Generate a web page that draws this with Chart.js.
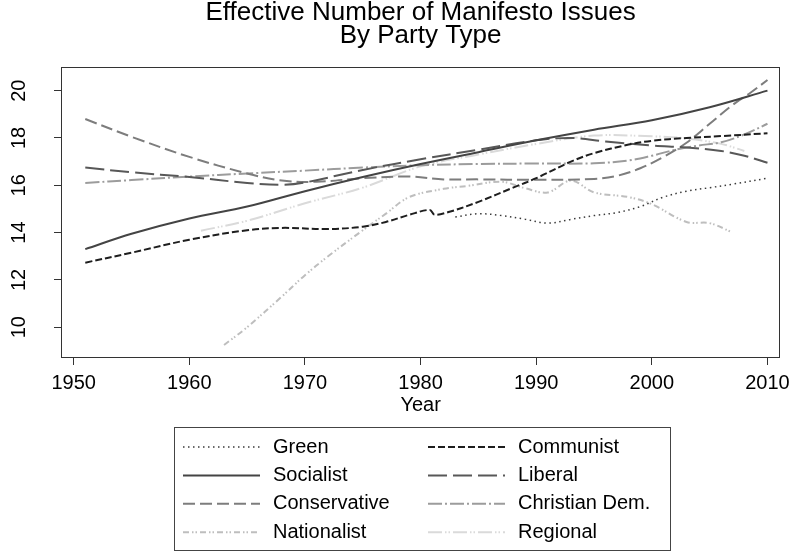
<!DOCTYPE html>
<html>
<head>
<meta charset="utf-8">
<title>Effective Number of Manifesto Issues</title>
<script src="https://cdn.jsdelivr.net/npm/chart.js@4.4.1/dist/chart.umd.min.js"></script>
<style>
  html, body { margin: 0; padding: 0; background: #fff; }
  #wrap { width: 796px; height: 552px; }
</style>
</head>
<body>
<div id="wrap"><canvas id="issuesChart" width="796" height="552"></canvas></div>
<script>
// smoothed effective number of issues, by party family
const greenYears = [1983, 1985, 1987, 1989, 1991, 1993, 1995, 1997, 1999, 2001, 2003, 2005, 2007, 2010];
const greenValues = [14.66, 14.8, 14.72, 14.57, 14.4, 14.56, 14.72, 14.85, 15.1, 15.5, 15.75, 15.9, 16.05, 16.3];

const communistYears = [1951, 1955, 1960, 1965, 1968, 1972, 1975, 1977, 1979, 1980.8, 1981.2, 1982.5, 1985, 1988, 1990, 1993, 1995, 1998, 2000, 2003, 2006, 2010];
const communistValues = [12.73, 13.15, 13.7, 14.1, 14.2, 14.15, 14.25, 14.45, 14.75, 14.96, 14.76, 14.88, 15.3, 15.9, 16.3, 17.0, 17.36, 17.72, 17.88, 18.0, 18.08, 18.2];

const socialistYears = [1951, 1955, 1960, 1965, 1970, 1975, 1980, 1985, 1990, 1995, 2000, 2005, 2010];
const socialistValues = [13.3, 13.95, 14.6, 15.1, 15.75, 16.35, 16.9, 17.4, 17.9, 18.35, 18.75, 19.3, 20.0];

const liberalYears = [1951, 1955, 1960, 1965, 1968, 1970, 1975, 1980, 1985, 1990, 1993, 1996, 2000, 2003, 2006, 2008, 2010];
const liberalValues = [16.75, 16.55, 16.35, 16.1, 16.02, 16.12, 16.65, 17.1, 17.5, 17.9, 18.0, 17.85, 17.68, 17.6, 17.45, 17.25, 16.95];

const conservativeYears = [1951, 1955, 1960, 1965, 1968, 1971, 1975, 1979, 1982, 1985, 1990, 1995, 1997, 1999, 2001, 2003, 2005, 2007, 2008.5, 2010];
const conservativeValues = [18.8, 18.05, 17.2, 16.5, 16.2, 16.15, 16.3, 16.37, 16.25, 16.25, 16.23, 16.27, 16.4, 16.72, 17.2, 17.8, 18.6, 19.4, 19.9, 20.45];

const christianYears = [1951, 1955, 1960, 1965, 1970, 1975, 1980, 1985, 1990, 1995, 1998, 2000, 2002, 2004, 2006, 2008, 2010];
const christianValues = [16.1, 16.22, 16.37, 16.5, 16.62, 16.75, 16.85, 16.9, 16.92, 16.93, 17.05, 17.25, 17.5, 17.68, 17.82, 18.15, 18.6];

const nationalistYears = [1963, 1965, 1968, 1970, 1972, 1975, 1977, 1979, 1982, 1984, 1987, 1989, 1991, 1993, 1995, 1998, 2000, 2003, 2005, 2007];
const nationalistValues = [9.25, 10.0, 11.3, 12.2, 13.0, 14.1, 14.8, 15.5, 15.85, 15.97, 16.15, 15.88, 15.7, 16.2, 15.7, 15.5, 15.2, 14.45, 14.4, 14.0];

const regionalYears = [1961, 1965, 1970, 1975, 1980, 1985, 1990, 1995, 2000, 2003, 2006, 2008];
const regionalValues = [14.08, 14.5, 15.24, 15.9, 16.8, 17.3, 17.75, 18.1, 18.07, 17.98, 17.75, 17.45];

const xTicks = [1950, 1960, 1970, 1980, 1990, 2000, 2010];
const yTicks = [10, 12, 14, 16, 18, 20];

const FONT = '"Liberation Sans", Arial, Helvetica, sans-serif';
Chart.defaults.font.family = FONT;
Chart.defaults.color = '#000';

const toPoints = (years, values) => years.map((yr, i) => ({ x: yr, y: values[i] }));

function series(label, years, values, color, dash, width) {
  return {
    label: label,
    data: toPoints(years, values),
    borderColor: color,
    borderDash: dash,
    borderWidth: width,
    pointRadius: 0,
    fill: false,
    tension: 0.35
  };
}

// plot frame on all four sides
const frame = {
  id: 'frame',
  afterDatasetsDraw(chart) {
    const { ctx, chartArea: a } = chart;
    ctx.save();
    ctx.strokeStyle = '#333';
    ctx.lineWidth = 1;
    ctx.strokeRect(Math.round(a.left) + 0.5, Math.round(a.top) + 0.5,
      Math.round(a.right - a.left) - 1, Math.round(a.bottom - a.top) - 1);
    ctx.restore();
  }
};

// two-column boxed legend under the axis
const boxLegend = {
  id: 'boxLegend',
  afterDraw(chart) {
    const ctx = chart.ctx;
    ctx.save();
    ctx.strokeStyle = '#444';
    ctx.lineWidth = 1;
    ctx.strokeRect(174.5, 427.5, 496, 123);
    ctx.font = '20px ' + FONT;
    ctx.textBaseline = 'middle';
    chart.data.datasets.forEach((ds, i) => {
      const col = i % 2;
      const row = Math.floor(i / 2);
      const x0 = 183 + col * 245;
      const y = 447 + row * 28.4;
      ctx.strokeStyle = ds.borderColor;
      ctx.lineWidth = ds.borderWidth;
      ctx.setLineDash(ds.borderDash || []);
      ctx.beginPath();
      ctx.moveTo(x0, y);
      ctx.lineTo(x0 + 77, y);
      ctx.stroke();
      ctx.setLineDash([]);
      ctx.fillStyle = '#000';
      ctx.fillText(ds.label, x0 + 90, y);
    });
    ctx.restore();
  }
};

const ctx = document.getElementById('issuesChart').getContext('2d');
new Chart(ctx, {
  type: 'line',
  data: {
    datasets: [
      series('Green', greenYears, greenValues, '#3a3a3a', [1.5, 3.5], 1.5),
      series('Communist', communistYears, communistValues, '#1e1e1e', [7, 3], 2),
      series('Socialist', socialistYears, socialistValues, '#444444', [], 2),
      series('Liberal', liberalYears, liberalValues, '#585858', [19, 6], 2),
      series('Conservative', conservativeYears, conservativeValues, '#7d7d7d', [12, 5], 2),
      series('Christian Dem.', christianYears, christianValues, '#9c9c9c', [14, 3, 2, 3], 2),
      series('Nationalist', nationalistYears, nationalistValues, '#bebebe', [6, 3, 1.5, 2, 1.5, 3], 2),
      series('Regional', regionalYears, regionalValues, '#dadada', [14, 3, 1.5, 2, 1.5, 3], 2)
    ]
  },
  options: {
    responsive: false,
    animation: false,
    layout: { padding: { left: 0, right: 13, top: 0, bottom: 0 } },
    plugins: {
      legend: { display: false },
      tooltip: { enabled: false },
      title: {
        display: true,
        fullSize: false,
        text: ['Effective Number of Manifesto Issues', 'By Party Type'],
        color: '#000',
        font: { size: 26, weight: 'normal', lineHeight: 23 / 26 },
        padding: { top: 1.5, bottom: 19.5 }
      }
    },
    scales: {
      x: {
        type: 'linear',
        min: 1948.9,
        max: 2011.1,
        afterBuildTicks: (scale) => { scale.ticks = xTicks.map(v => ({ value: v })); },
        afterFit: (scale) => { scale.height = 194; },
        border: { display: false },
        grid: { display: true, drawOnChartArea: false, drawTicks: true, tickLength: 7, color: '#333' },
        ticks: { color: '#000', font: { size: 20 }, padding: 6, maxRotation: 0, callback: (v) => String(v) },
        title: { display: true, text: 'Year', color: '#000', font: { size: 20 }, padding: { top: 0, bottom: 135 } }
      },
      y: {
        type: 'linear',
        min: 8.7,
        max: 21.0,
        afterBuildTicks: (scale) => { scale.ticks = yTicks.map(v => ({ value: v })); },
        afterFit: (scale) => { scale.width = 61; },
        border: { display: false },
        grid: { display: true, drawOnChartArea: false, drawTicks: true, tickLength: 7, color: '#333' },
        ticks: { color: '#000', font: { size: 20 }, padding: 23, minRotation: 90, maxRotation: 90, crossAlign: 'center', callback: (v) => String(v) }
      }
    }
  },
  plugins: [frame, boxLegend]
});
</script>
</body>
</html>
